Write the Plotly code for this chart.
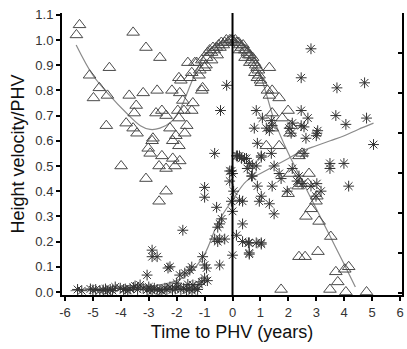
import plotly.graph_objects as go

# Triangles: height velocity / PHV (series A)
tri_x = [-5.59,-5.48,-3.56,-3.10,-2.60,-4.41,-5.12,-4.77,-4.98,-4.48,-3.70,-3.20,-2.70,-3.45,-3.52,-4.52,-3.81,-3.56,-3.42,-2.74,-2.53,-2.38,-2.85,-2.88,-3.02,-2.95,-2.53,-3.99,-3.10,-2.63,-2.38,-2.38,-2.63,-2.14,-1.89,-2.06,
         -2.17,-1.89,-1.92,-1.85,-1.60,-1.35,-1.46,-1.17,-1.00,-1.53,-1.07,-1.10,-1.78,-1.42,-1.46,-1.96,-1.74,-1.92,-2.24,-1.64,-1.71,-2.03,-2.14,-1.92,
         -1.28,-1.10,-0.93,-0.89,-0.82,-0.75,-0.70,-0.65,-0.58,-0.50,-0.45,-0.40,-0.33,-0.28,-0.22,-0.16,-0.10,-0.05,0.0,0.05,0.10,0.16,0.22,0.27,0.32,0.38,0.43,0.48,0.53,0.58,0.63,0.68,0.72,0.78,0.83,0.88,-0.95,-0.75,-0.55,0.25,0.45,0.62,0.80,0.95,1.0,-1.2,
         1.32,0.93,0.89,1.03,1.25,1.42,1.32,1.67,1.99,1.42,1.78,1.42,2.10,2.06,1.21,1.67,2.38,2.49,2.06,1.99,2.74,2.35,2.45,2.70,3.02,2.99,2.81,2.63,3.10,3.52,2.38,2.60,3.06,3.70,3.77,4.02,4.16,1.74,3.49,4.06,4.80]
tri_y = [1.02,1.06,1.03,0.97,0.93,0.89,0.86,0.81,0.77,0.78,0.78,0.79,0.80,0.74,0.71,0.66,0.67,0.65,0.63,0.71,0.72,0.70,0.61,0.60,0.57,0.55,0.54,0.50,0.45,0.50,0.49,0.40,0.36,0.53,0.52,0.50,
         0.80,0.79,0.85,0.84,0.91,0.91,0.87,0.88,0.89,0.85,0.81,0.80,0.76,0.75,0.72,0.72,0.72,0.69,0.65,0.66,0.63,0.62,0.60,0.58,
         0.91,0.92,0.93,0.95,0.96,0.95,0.97,0.96,0.97,0.98,0.97,0.99,0.98,0.99,1.0,0.99,1.0,1.0,1.0,0.99,1.0,0.99,0.99,0.98,0.97,0.98,0.96,0.96,0.95,0.94,0.94,0.92,0.93,0.91,0.90,0.89,0.90,0.92,0.94,0.96,0.93,0.91,0.87,0.86,0.84,0.86,
         0.89,0.88,0.85,0.83,0.80,0.80,0.78,0.77,0.72,0.71,0.69,0.65,0.66,0.63,0.58,0.58,0.54,0.55,0.47,0.39,0.47,0.42,0.43,0.43,0.38,0.36,0.33,0.30,0.28,0.22,0.14,0.14,0.16,0.08,0.04,0.09,0.10,0.01,0.01,0.0,0.0]

# Asterisks: series B
ast_x = [-5.55,-5.4,-5.09,-5.0,-4.9,-4.75,-4.63,-4.55,-4.48,-4.38,-4.3,-4.02,-3.9,-3.84,-3.75,-3.67,-3.55,-3.49,-3.4,-3.31,-3.2,-3.06,-2.95,-2.88,-2.8,-2.70,-2.6,-2.53,-2.42,-2.35,-2.24,-2.15,-2.05,-1.95,-1.85,-1.75,-1.65,-1.55,-1.45,-1.35,-1.25,-1.42,-1.2,-1.1,-1.0,-0.9,-1.6,-2.0,-3.0,-4.2,
         -3.06,-2.88,-2.88,-2.70,-2.31,-2.24,-1.89,-1.71,-1.53,-1.46,-1.78,-1.07,-1.0,-0.93,-0.46,-0.64,-0.46,-0.28,-0.53,-0.39,-0.46,-0.53,-0.57,-1.0,-1.0,-0.64,-0.43,-0.21,
         -0.1,-0.04,0.0,0.04,-0.04,0.0,0.0,0.14,0.36,0.25,0.36,0.36,0.57,0.60,0.85,1.03,0.25,0.5,0.53,0.68,0.85,0.18,0.43,0.6,-0.1,0.14,0.32,
         2.81,2.46,3.74,4.73,3.70,0.85,1.07,0.78,1.21,0.89,1.39,2.46,2.70,2.46,2.56,2.63,3.02,3.05,3.0,2.03,2.14,2.10,1.39,1.32,1.42,2.56,1.03,4.06,4.80,5.05,3.49,3.49,3.99,4.16,1.03,1.49,1.74,1.67,0.71,0.71,0.89,1.03,0.96,1.42,1.32,1.49,1.96,2.14,2.49,2.81,3.02,3.17,2.99,2.38,2.31,0.6,1.03,0.6]
ast_y = [0.01,0.005,0.012,0.008,0.01,0.006,0.008,0.012,0.004,0.01,0.006,0.015,0.01,0.012,0.006,0.012,0.018,0.024,0.01,0.028,0.015,0.008,0.012,0.005,0.015,0.01,0.008,0.004,0.015,0.01,0.02,0.008,0.012,0.02,0.01,0.015,0.008,0.012,0.005,0.016,0.01,0.028,0.03,0.04,0.055,0.045,0.03,0.035,0.02,0.02,
         0.067,0.166,0.14,0.14,0.095,0.10,0.067,0.075,0.087,0.099,0.245,0.14,0.107,0.095,0.107,0.21,0.21,0.21,0.20,0.29,0.27,0.257,0.336,0.415,0.376,0.55,0.72,0.82,
         0.44,0.48,0.47,0.40,0.36,0.32,0.146,0.225,0.27,0.364,0.36,0.2,0.195,0.155,0.195,0.19,0.54,0.53,0.49,0.46,0.50,0.54,0.53,0.51,0.48,0.54,0.53,
         0.965,0.85,0.81,0.83,0.70,0.72,0.69,0.65,0.65,0.59,0.55,0.72,0.69,0.66,0.655,0.61,0.63,0.64,0.62,0.65,0.67,0.63,0.68,0.64,0.66,0.55,0.54,0.665,0.69,0.585,0.51,0.49,0.51,0.42,0.535,0.50,0.45,0.47,0.46,0.50,0.42,0.38,0.36,0.42,0.35,0.31,0.40,0.49,0.43,0.42,0.43,0.40,0.38,0.46,0.44,0.195,0.195,0.15]

# Fitted curves
fitA_x = [-5.6,-5.0,-4.4,-3.8,-3.3,-2.95,-2.6,-2.2,-1.9,-1.4,-1.0,-0.6,0.0,0.5,0.8,1.0,1.2,1.5,2.0,2.5,3.0,3.5,4.0,4.4]
fitA_y = [0.98,0.86,0.78,0.71,0.66,0.645,0.65,0.675,0.72,0.85,0.94,0.98,1.0,0.97,0.91,0.86,0.79,0.68,0.55,0.44,0.33,0.22,0.11,0.02]
fitB_x = [-5.8,-5.0,-4.0,-3.0,-2.5,-2.0,-1.5,-1.0,-0.5,0.0,0.5,1.0,1.5,2.0,2.5,3.0,3.5,4.0,4.5,5.05]
fitB_y = [0.005,0.01,0.015,0.02,0.03,0.045,0.078,0.15,0.28,0.365,0.44,0.47,0.50,0.53,0.56,0.58,0.60,0.62,0.645,0.67]

xticks = [-6,-5,-4,-3,-2,-1,0,1,2,3,4,5,6]
yticks = [0.0,0.1,0.2,0.3,0.4,0.5,0.6,0.7,0.8,0.9,1.0,1.1]

fig = go.Figure()
fig.add_trace(go.Scatter(x=fitA_x, y=fitA_y, mode="lines", line=dict(color="#8a8a8a", width=1.2, shape="spline"), hoverinfo="skip"))
fig.add_trace(go.Scatter(x=fitB_x, y=fitB_y, mode="lines", line=dict(color="#8a8a8a", width=1.2, shape="spline"), hoverinfo="skip"))
fig.add_trace(go.Scatter(x=tri_x, y=tri_y, mode="markers",
                         marker=dict(symbol="triangle-up-open", size=11, color="#4a4a4a", line=dict(width=1))))
fig.add_trace(go.Scatter(x=ast_x, y=ast_y, mode="markers",
                         marker=dict(symbol="asterisk-open", size=9, color="#333", line=dict(width=1, color="#333"))))
fig.add_trace(go.Scatter(x=[], y=[], yaxis="y2", mode="markers"))

fig.add_shape(type="line", xref="x", yref="y", x0=0, x1=0, y0=-0.012, y1=1.107,
              line=dict(color="black", width=2))

font = "Liberation Sans, Arial, sans-serif"
fig.update_layout(
    width=407, height=349, margin=dict(l=62, r=3, t=13, b=54),
    plot_bgcolor="white", paper_bgcolor="white", showlegend=False,
    font=dict(family=font, color="#222"),
    xaxis=dict(range=[-6.107, 6.07], tickmode="array", tickvals=xticks, ticktext=[str(v) for v in xticks],
               showgrid=False, zeroline=False, showline=True, linecolor="black", linewidth=2,
               ticks="outside", ticklen=4, tickwidth=1.5, tickcolor="black",
               tickfont=dict(size=13, color="#333"),
               title=dict(text="Time to PHV (years)", font=dict(size=18, color="#111"), standoff=7)),
    yaxis=dict(range=[-0.012, 1.107], tickmode="array", tickvals=yticks, ticktext=[f"{v:.1f}" for v in yticks],
               showgrid=False, zeroline=False, showline=True, linecolor="black", linewidth=2,
               ticks="outside", ticklen=4, tickwidth=1.5, tickcolor="black",
               tickfont=dict(size=13, color="#333"),
               title=dict(text="Height velocity/PHV", font=dict(size=18, color="#111"), standoff=6)),
    yaxis2=dict(overlaying="y", side="right", range=[-0.05, 7.0], tickmode="linear", tick0=0, dtick=1,
                showticklabels=False, showgrid=False, zeroline=False, showline=True, linecolor="black", linewidth=2,
                ticks="inside", ticklen=4, tickwidth=1.5, tickcolor="black"),
)

fig.write_html("out.html")
